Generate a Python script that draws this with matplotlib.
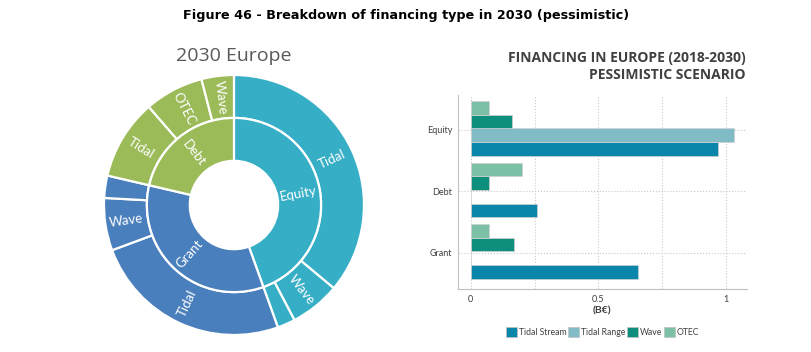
import numpy as np
import matplotlib.pyplot as plt
from matplotlib.patches import Patch

# inner ring of the sunburst (degrees)
types = ["Equity", "Grant", "Debt"]
outer_labels = ["Tidal", "Wave", "", "Tidal", "Wave", "", "Tidal", "OTEC", "Wave"]
outer_vals = [130, 22.5, 8, 89.5, 23.5, 10, 36, 26.5, 14.5]
outer_group = [0, 0, 0, 1, 1, 1, 2, 2, 2]

# bar chart (B€)
cats = ["Equity", "Debt", "Grant"]
series = ["Tidal Stream", "Tidal Range", "Wave", "OTEC"]
tidal_stream = [0.97, 0.26, 0.655]
tidal_range = [1.03, 0.0, 0.0]
wave = [0.16, 0.07, 0.17]
otec = [0.07, 0.20, 0.07]

type_colors = ["#35AEC6", "#4A7FBD", "#9BBB59"]
bar_colors = ["#0B86AB", "#80BBC6", "#0E8F7E", "#7CC0A6"]

plt.rcParams['font.family'] = ['Lato', 'DejaVu Sans']

fig = plt.figure(figsize=(8.11, 3.52), dpi=100)
fig.text(0.501, 0.957, "Figure 46 - Breakdown of financing type in 2030 (pessimistic)",
         ha="center", va="center", fontsize=9.2, fontweight="bold", family="DejaVu Sans")

# ---- sunburst
ax = fig.add_axes([0.1282, 0.0483, 0.3206, 0.7386])
inner_vals = [sum(v for v, g in zip(outer_vals, outer_group) if g == i) for i in range(3)]
wp = dict(edgecolor="white", linewidth=1.6)
ax.pie(outer_vals, radius=1.0, startangle=90, counterclock=False,
       colors=[type_colors[g] for g in outer_group],
       wedgeprops=dict(width=0.33, **wp))
ax.pie(inner_vals, radius=0.67, startangle=90, counterclock=False,
       colors=type_colors, wedgeprops=dict(width=0.33, **wp))

def put_labels(vals, labels, r):
    start = 90.0
    for v, lab in zip(vals, labels):
        mid = start - v / 2.0
        start -= v
        if not lab:
            continue
        a = np.deg2rad(mid)
        rot = mid
        while rot > 90:
            rot -= 180
        while rot < -90:
            rot += 180
        ax.text(r * np.cos(a), r * np.sin(a), lab, color="white", fontsize=9.5,
                ha="center", va="center", rotation=rot, rotation_mode="anchor")

put_labels(outer_vals, outer_labels, 0.835)
put_labels(inner_vals, types, 0.505)
ax.set_xlim(-1, 1)
ax.set_ylim(-1, 1)
ax.set_aspect("equal")
ax.set_title("2030 Europe", fontsize=14, color="#595959", pad=10, family="Open Sans")

# ---- bars
bx = fig.add_axes([0.5644, 0.179, 0.3564, 0.551])
h = 0.22
pos = np.array([2, 1, 0]) + 0.02
offs = [-1.5 * h, -0.5 * h, 0.5 * h, 1.5 * h]
for vals, off, c in zip([tidal_stream, tidal_range, wave, otec], offs, bar_colors):
    bx.barh(pos + off, vals, height=h, color=c, edgecolor="#D0D0D0", linewidth=0.5, zorder=3)

bx.set_xlim(-0.051, 1.081)
bx.set_ylim(-0.59, 2.564)
bx.set_yticks([2, 1, 0])
bx.set_yticklabels(cats)
bx.set_xticks([0, 0.5, 1])
bx.set_xticklabels(["0", "0.5", "1"])
bx.set_xticks([0.25, 0.75], minor=True)
bx.tick_params(axis="both", labelsize=6.5, colors="#404040", length=0, pad=4)
bx.tick_params(which="minor", length=0)
bx.grid(True, which="both", axis="x", linestyle=":", color="#C8C8C8", linewidth=0.8, zorder=0)
bx.grid(True, axis="y", linestyle=":", color="#C8C8C8", linewidth=0.8, zorder=0)
for s in ["top", "right"]:
    bx.spines[s].set_visible(False)
for s in ["left", "bottom"]:
    bx.spines[s].set_color("#BFBFBF")
    bx.spines[s].set_linewidth(0.8)
bx.set_xlabel("(B€)", fontsize=7.5, fontweight="bold", color="#404040", labelpad=2)

fig.text(0.919, 0.811, "FINANCING IN EUROPE (2018-2030)\nPESSIMISTIC SCENARIO",
         ha="right", va="center", fontsize=10, fontweight="bold", color="#404040",
         family="Open Sans", linespacing=1.2)

handles = [Patch(facecolor=c, edgecolor="#BFBFBF", linewidth=0.5) for c in bar_colors]
fig.legend(handles, series, loc="center", bbox_to_anchor=(0.743, 0.057), ncol=4,
           frameon=False, fontsize=6.2, handlelength=1.3, handleheight=1.4,
           handletextpad=0.2, columnspacing=0.2, labelcolor="#404040")

fig.savefig("out.png", dpi=100)
